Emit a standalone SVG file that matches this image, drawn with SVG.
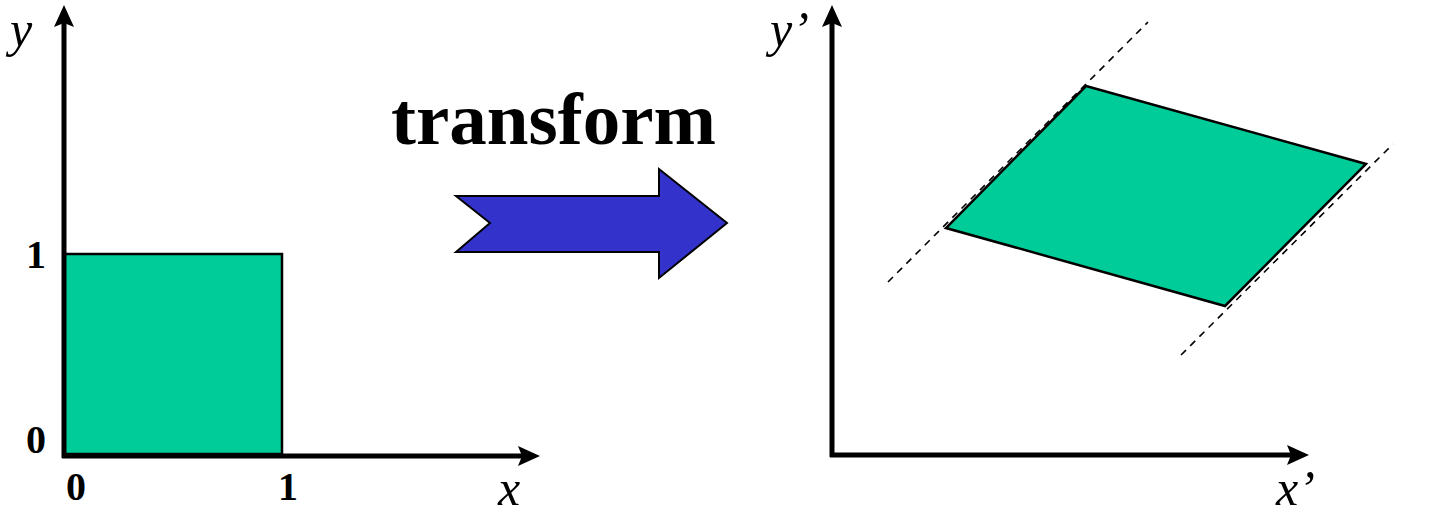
<svg xmlns="http://www.w3.org/2000/svg" width="1436" height="514" viewBox="0 0 1436 514">
<style>
.axis{stroke:#000;stroke-width:5;fill:none}
.head{fill:#000}
.shape{fill:#00CC99;stroke:#000;stroke-width:2.5;stroke-linejoin:miter}
.dash{stroke:#000;stroke-width:1.6;stroke-dasharray:7,6;fill:none}
.num{font-family:"Liberation Serif","Times New Roman",serif;font-weight:bold;font-size:40px;fill:#000}
.var{font-family:"Liberation Serif","Times New Roman",serif;font-style:italic;font-size:50px;fill:#000}
.title{font-family:"Liberation Serif","Times New Roman",serif;font-weight:bold;font-size:75px;fill:#000}
</style>
<rect width="1436" height="514" fill="#fff"/>
<g id="left-plot">
  <rect class="shape" x="64" y="254" width="218" height="200"/>
  <line class="axis" x1="64" y1="458" x2="64" y2="22"/>
  <polygon class="head" points="64,5 74,27 64,23 54,27"/>
  <line class="axis" x1="62" y1="456" x2="522" y2="456"/>
  <polygon class="head" points="540,456 518,466 522,456 518,446"/>
  <text class="var" x="10" y="46">y</text>
  <text class="var" x="498" y="505">x</text>
  <text class="num" x="26" y="268">1</text>
  <text class="num" x="26" y="453">0</text>
  <text class="num" x="66" y="500">0</text>
  <text class="num" x="278" y="500">1</text>
</g>
<g id="transform-arrow">
  <polygon points="456,196 659,196 659,169 727,223 659,278 659,252 456,252 490,223" fill="#3333CC" stroke="#000" stroke-width="2"/>
  <text class="title" x="391" y="144">transform</text>
</g>
<g id="right-plot">
  <line class="dash" x1="888" y1="282" x2="1148" y2="22"/>
  <line class="dash" x1="1181" y1="355" x2="1393" y2="144"/>
  <polygon class="shape" points="1086,86 1366,164 1225,306 946,228"/>
  <line class="axis" x1="832" y1="457" x2="832" y2="22"/>
  <polygon class="head" points="832,5 842,27 832,23 822,27"/>
  <line class="axis" x1="830" y1="455" x2="1291" y2="455"/>
  <polygon class="head" points="1309,455 1287,465 1291,455 1287,445"/>
  <text class="var" x="770" y="46">y’</text>
  <text class="var" x="1276" y="505">x’</text>
</g>
</svg>
